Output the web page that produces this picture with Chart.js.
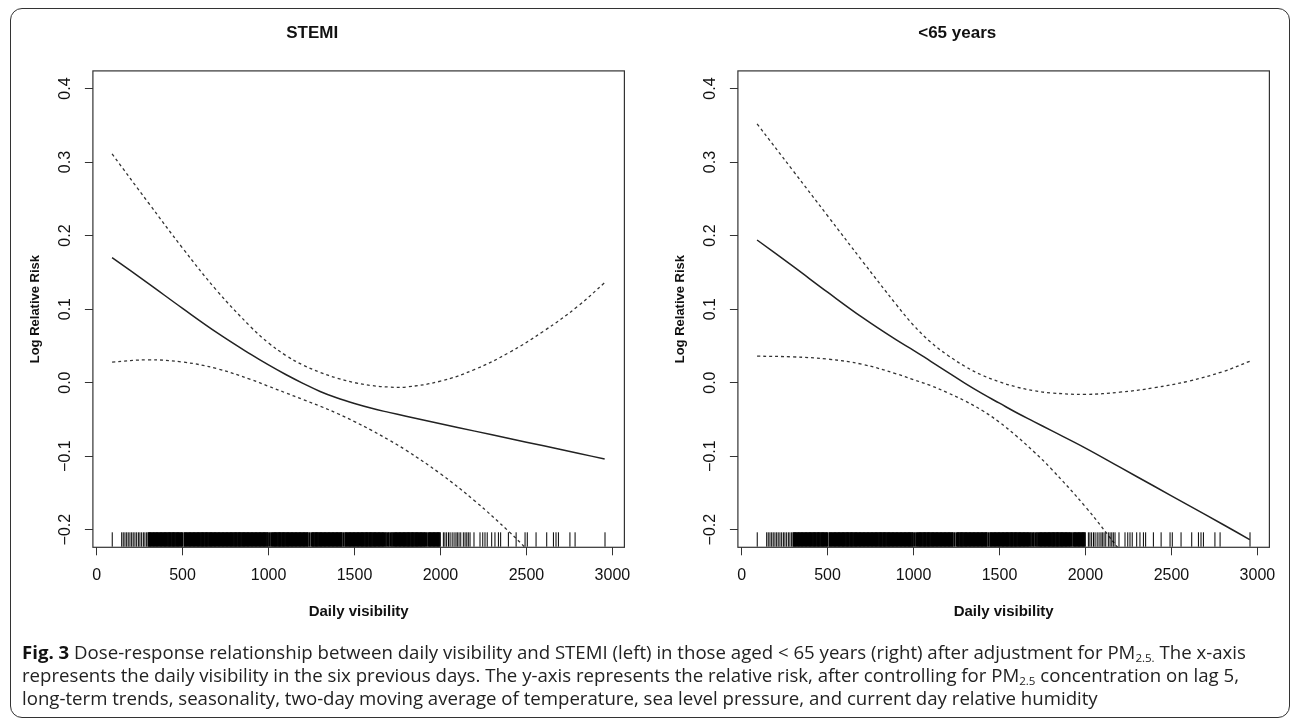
<!DOCTYPE html>
<html>
<head>
<meta charset="utf-8">
<script src="https://cdn.jsdelivr.net/npm/chart.js@4.4.1/dist/chart.umd.min.js"></script>
<style>
  html, body { margin: 0; padding: 0; background: #fff; }
  #page { position: relative; width: 1295px; height: 722px; overflow: hidden; }
  #frame { position: absolute; left: 10px; top: 8px; width: 1280px; height: 710px;
           border: 1.5px solid #333; border-radius: 12px; box-sizing: border-box; }
  canvas { position: absolute; top: 0; }
  #c1 { left: 0; }
  #c2 { left: 645px; }
  .cap { position: absolute; left: 22px; white-space: nowrap; font-family: "Open Sans", sans-serif;
         font-size: 17px; line-height: 23px; color: #222; }
  .cap b { color: #111; }
  .cap sub { font-size: 62%; vertical-align: -0.25em; line-height: 0; }
</style>
</head>
<body>
<div id="page">
  <div id="frame"></div>
  <canvas id="c1" width="645" height="640"></canvas>
  <canvas id="c2" width="645" height="640"></canvas>
  <div class="cap" id="cap1" style="top:639.5px"><b>Fig. 3</b> Dose-response relationship between daily visibility and STEMI (left) in those aged &lt; 65 years (right) after adjustment for PM<sub>2.5.</sub> The x-axis</div>
  <div class="cap" id="cap2" style="top:662.5px">represents the daily visibility in the six previous days. The y-axis represents the relative risk, after controlling for PM<sub>2.5</sub> concentration on lag 5,</div>
  <div class="cap" id="cap3" style="top:685.5px">long-term trends, seasonality, two-day moving average of temperature, sea level pressure, and current day relative humidity</div>
</div>
<script>
var xGrid = [90, 300, 500, 700, 900, 1000, 1100, 1200, 1300, 1400, 1500, 1600, 1700, 1800, 2000, 2200, 2400, 2600, 2800, 2955];

// STEMI (left)
var stemiFit   = [0.170, 0.135, 0.101, 0.068, 0.038, 0.024, 0.011, -0.001, -0.012, -0.021, -0.0285, -0.035, -0.0405, -0.0457, -0.056, -0.066, -0.076, -0.086, -0.096, -0.104];
var stemiUpper = [0.311, 0.245, 0.183, 0.125, 0.075, 0.054, 0.037, 0.024, 0.014, 0.006, 0.000, -0.004, -0.006, -0.006, 0.002, 0.018, 0.041, 0.070, 0.104, 0.136];
var stemiLowerX = [90, 300, 500, 700, 900, 1000, 1100, 1200, 1300, 1400, 1500, 1600, 1700, 1800, 2000, 2200, 2400, 2500];
var stemiLower = [0.028, 0.031, 0.028, 0.019, 0.004, -0.005, -0.014, -0.023, -0.032, -0.042, -0.053, -0.065, -0.078, -0.092, -0.124, -0.161, -0.203, -0.226];

// <65 years (right)
var youngFit   = [0.194, 0.158, 0.123, 0.089, 0.058, 0.044, 0.029, 0.014, -0.001, -0.015, -0.028, -0.041, -0.053, -0.065, -0.089, -0.115, -0.141, -0.167, -0.193, -0.2135];
var youngUpper = [0.352, 0.288, 0.227, 0.166, 0.106, 0.078, 0.055, 0.037, 0.022, 0.010, 0.001, -0.006, -0.011, -0.014, -0.016, -0.013, -0.007, 0.002, 0.015, 0.029];
var youngLowerX = [90, 300, 500, 700, 900, 1000, 1100, 1200, 1300, 1400, 1500, 1600, 1700, 1800, 2000, 2200];
var youngLower = [0.036, 0.035, 0.032, 0.025, 0.012, 0.004, -0.004, -0.014, -0.025, -0.038, -0.054, -0.073, -0.094, -0.117, -0.169, -0.228];

// observed daily visibility (rug)
var rugValues = [91, 146, 155, 165, 175, 184, 194, 204, 213, 223, 233, 243, 252, 262, 272, 281, 291,
  301, 307, 312, 318, 325, 331, 336, 343, 349, 354, 360, 367, 373, 378, 384, 391, 397, 402, 408, 415,
  421, 426, 432, 439, 445, 450, 456, 463, 469, 474, 480, 487, 493, 498, 510, 516, 522, 528, 535, 541,
  546, 552, 559, 565, 570, 576, 583, 589, 594, 600, 607, 613, 618, 624, 631, 637, 642, 648, 655, 661,
  666, 672, 679, 685, 690, 696, 703, 709, 714, 720, 727, 733, 738, 744, 751, 757, 762, 768, 775, 781,
  786, 792, 799, 805, 810, 816, 823, 829, 834, 840, 847, 853, 858, 864, 871, 877, 882, 888, 895, 901,
  906, 912, 919, 925, 930, 936, 943, 949, 954, 960, 967, 973, 978, 984, 991, 997, 1008, 1018, 1024, 1031,
  1037, 1042, 1048, 1055, 1061, 1066, 1072, 1079, 1085, 1090, 1096, 1103, 1109, 1114, 1120, 1127, 1133, 1138, 1144, 1151,
  1157, 1162, 1168, 1175, 1181, 1186, 1192, 1199, 1205, 1210, 1216, 1223, 1229, 1240, 1252, 1258, 1264, 1271, 1277, 1282, 1288,
  1295, 1301, 1306, 1312, 1319, 1325, 1330, 1336, 1343, 1349, 1354, 1360, 1367, 1373, 1378, 1384, 1391, 1397, 1402, 1408,
  1415, 1421, 1426, 1436, 1446, 1452, 1458, 1465, 1471, 1476, 1482, 1489, 1495, 1500, 1506, 1513, 1519, 1524, 1530, 1537, 1543,
  1548, 1554, 1561, 1567, 1572, 1578, 1585, 1591, 1596, 1602, 1609, 1615, 1620, 1626, 1633, 1639, 1644, 1650, 1657, 1663,
  1668, 1675, 1683, 1692, 1700, 1710, 1718, 1726, 1733, 1739, 1744, 1750, 1757, 1763, 1768, 1774, 1781, 1787, 1792, 1798,
  1805, 1811, 1816, 1822, 1829, 1835, 1840, 1846, 1853, 1859, 1864, 1870, 1877, 1883, 1888, 1894, 1901, 1907, 1912, 1921, 1931,
  1937, 1942, 1948, 1955, 1961, 1966, 1972, 1979, 1985, 1990, 1997,
  2017, 2026, 2036, 2047, 2056, 2068, 2079, 2090, 2098, 2108, 2118, 2133, 2143, 2153, 2162, 2172, 2195, 2230, 2246, 2259,
  2272, 2298, 2317, 2337, 2350, 2395, 2440, 2492, 2505, 2556, 2618, 2657, 2672, 2686, 2753, 2783, 2957];

var yTicks = [-0.2, -0.1, 0.0, 0.1, 0.2, 0.3, 0.4];
var xTicks = [0, 500, 1000, 1500, 2000, 2500, 3000];
var rugY = -0.2134;

Chart.defaults.font.family = '"Liberation Sans", Arial, sans-serif';
Chart.defaults.color = '#111';

function pts(xs, ys) {
    var out = [];
    for (var i = 0; i < ys.length; i++) out.push({x: xs[i], y: ys[i]});
    return out;
}

var boxPlugin = {
    id: 'rbox',
    afterDraw: function(chart) {
        var ctx = chart.ctx, a = chart.chartArea, ys = chart.scales.y;
        ctx.save();
        ctx.strokeStyle = '#333';
        ctx.lineWidth = 1.2;
        ctx.strokeRect(a.left, a.top, a.right - a.left, a.bottom - a.top);
        // rotated y tick labels, like R's default las=0
        ctx.fillStyle = '#111';
        ctx.font = '16px "Liberation Sans", Arial, sans-serif';
        ctx.textAlign = 'center';
        ctx.textBaseline = 'middle';
        ys.ticks.forEach(function(t) {
            var py = ys.getPixelForValue(t.value);
            var txt = t.value.toFixed(1).replace('-', '\u2212');
            if (txt == '\u22120.0') txt = '0.0';
            ctx.save();
            ctx.translate(66, py);
            ctx.rotate(-Math.PI / 2);
            ctx.fillText(txt, 0, 0);
            ctx.restore();
        });
        ctx.restore();
    }
};

function makePanel(id, title, fit, upper, lowerX, lower) {
    var solid = { data: pts(xGrid, fit), showLine: true, borderColor: '#222', borderWidth: 1.5,
                  pointRadius: 0, tension: 0.4 };
    var up = { data: pts(xGrid, upper), showLine: true, borderColor: '#333', borderWidth: 1.3,
               borderDash: [3, 3], pointRadius: 0, tension: 0.4 };
    var low = { data: pts(lowerX, lower), showLine: true, borderColor: '#333', borderWidth: 1.3,
                borderDash: [3, 3], pointRadius: 0, tension: 0.4 };
    var rug = { data: rugValues.map(function(v) { return {x: v, y: rugY}; }), showLine: false,
                pointStyle: 'line', pointRotation: 90, pointRadius: 7.2, pointBorderColor: '#000',
                pointBorderWidth: function(c) {
                    var v = c.raw ? c.raw.x : 0;
                    return (v >= 300 && v <= 2000) ? 1.8 : 1;
                },
                pointHitRadius: 0 };

    new Chart(document.getElementById(id).getContext('2d'), {
        type: 'scatter',
        data: { datasets: [rug, up, low, solid] },
        options: {
            responsive: false,
            animation: false,
            layout: { padding: { left: 0, right: 20.6, top: 0, bottom: 0 } },
            plugins: {
                legend: { display: false },
                tooltip: { enabled: false },
                title: { display: true, text: title, color: '#111',
                         font: { size: 17, weight: 'bold' }, padding: { top: 23, bottom: 27.5 } }
            },
            scales: {
                x: {
                    type: 'linear', position: 'bottom', min: -21.5, max: 3069.8,
                    afterBuildTicks: function(s) { s.ticks = xTicks.map(function(v) { return {value: v}; }); },
                    ticks: { font: { size: 16 }, color: '#111', padding: 11, maxRotation: 0, autoSkip: false,
                             callback: function(v) { return String(v); } },
                    grid: { drawOnChartArea: false, drawTicks: true, tickLength: 8, color: '#333', lineWidth: 1 },
                    border: { display: false },
                    title: { display: true, text: 'Daily visibility', color: '#111',
                             font: { size: 15, weight: 'bold' }, padding: { top: 0, bottom: 19.3 } },
                    afterFit: function(s) { s.height = 92.7; s.paddingLeft = 0; s.paddingRight = 0; }
                },
                y: {
                    type: 'linear', position: 'left', min: -0.224, max: 0.424,
                    afterBuildTicks: function(s) { s.ticks = yTicks.map(function(v) { return {value: v}; }); },
                    ticks: { display: false },
                    grid: { drawOnChartArea: false, drawTicks: true, tickLength: 8, color: '#333', lineWidth: 1 },
                    border: { display: false },
                    title: { display: true, text: 'Log Relative Risk', color: '#111',
                             font: { size: 13, weight: 'bold' }, padding: { top: 27.4, bottom: 0 } },
                    afterFit: function(s) { s.width = 92.9; s.paddingTop = 0; s.paddingBottom = 0; }
                }
            }
        },
        plugins: [boxPlugin]
    });
}

makePanel('c1', 'STEMI', stemiFit, stemiUpper, stemiLowerX, stemiLower);
makePanel('c2', '<65 years', youngFit, youngUpper, youngLowerX, youngLower);

// fit caption width to the reference line length
var c1 = document.getElementById('cap1');
var w = c1.getBoundingClientRect().width;
var size = 17 * 1225 / w;
['cap1', 'cap2', 'cap3'].forEach(function(id) { document.getElementById(id).style.fontSize = size + 'px'; });
</script>
</body>
</html>
